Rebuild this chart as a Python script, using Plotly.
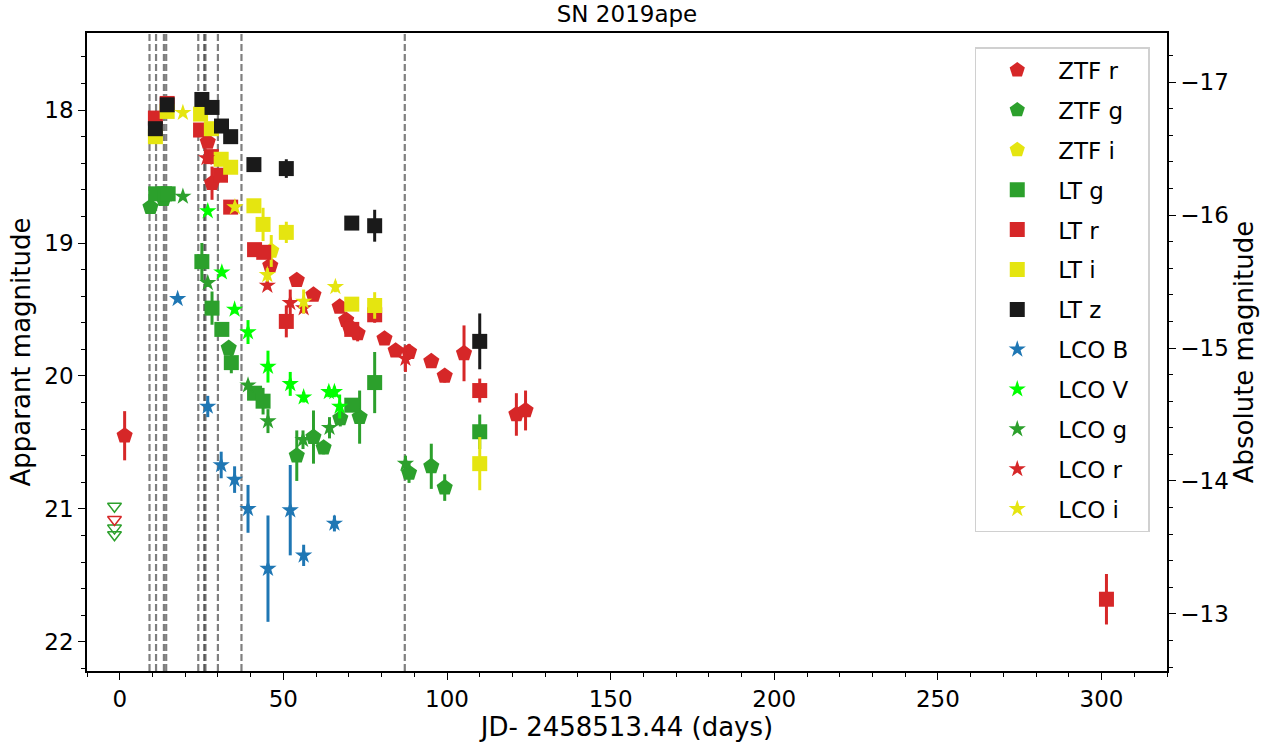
import plotly.graph_objects as go

# ---------------- data ----------------
DIST_MOD = 34.79

spec_epochs = [9.1, 11.1, 13.5, 14.2, 24.0, 25.8, 26.2, 30.0, 37.2, 87.1]

# upper limits (ZTF)
ul_g_t = [-1.6, -1.6, -1.6]
ul_g_m = [20.98, 21.145, 21.195]
ul_r_t = [-1.6]
ul_r_m = [21.08]

ztf_r_t = [1.5, 26.9, 28.2, 46.0, 54.1, 59.2, 67.2, 69.2, 70.2, 72.7, 80.9, 84.3, 88.4, 95.2, 99.3, 105.2, 121.2, 124.0]
ztf_r_m = [20.45, 18.24, 18.55, 19.17, 19.28, 19.39, 19.48, 19.58, 19.63, 19.68, 19.72, 19.81, 19.82, 19.89, 20.0, 19.83, 20.29, 20.26]
ztf_r_e = [0.185, 0.04, 0.125, 0.04, 0.03, 0.04, 0.04, 0.05, 0.05, 0.06, 0.03, 0.03, 0.06, 0.04, 0.05, 0.21, 0.16, 0.15]

ztf_g_t = [9.4, 13.4, 33.3, 54.1, 59.2, 62.3, 67.4, 73.3, 88.4, 95.2, 99.3]
ztf_g_m = [18.73, 18.67, 19.79, 20.60, 20.46, 20.54, 20.32, 20.31, 20.73, 20.68, 20.84]
ztf_g_e = [0.03, 0.03, 0.05, 0.19, 0.20, 0.05, 0.06, 0.20, 0.075, 0.17, 0.10]

ztf_i_t = [46.3]
ztf_i_m = [19.06]
ztf_i_e = [0.12]

lt_g_t = [11.0, 13.7, 14.8, 25.1, 28.2, 31.2, 34.1, 41.2, 43.8, 70.9, 77.9, 110.0]
lt_g_m = [18.63, 18.63, 18.63, 19.14, 19.49, 19.65, 19.90, 20.13, 20.19, 20.22, 20.05, 20.42]
lt_g_e = [0.02, 0.02, 0.02, 0.14, 0.125, 0.03, 0.08, 0.03, 0.10, 0.04, 0.23, 0.13]

lt_r_t = [10.9, 14.5, 24.7, 28.0, 30.8, 33.9, 41.2, 44.0, 50.9, 70.9, 77.9, 110.0, 301.5]
lt_r_m = [18.06, 17.95, 18.15, 18.35, 18.49, 18.73, 19.05, 19.07, 19.59, 19.65, 19.54, 20.11, 21.68]
lt_r_e = [0.02, 0.02, 0.02, 0.03, 0.03, 0.02, 0.03, 0.05, 0.12, 0.04, 0.06, 0.09, 0.19]

lt_i_t = [10.9, 14.5, 24.7, 28.0, 31.0, 33.9, 41.0, 43.8, 50.9, 70.9, 77.9, 110.0]
lt_i_m = [18.20, 18.01, 18.03, 18.14, 18.37, 18.43, 18.72, 18.86, 18.92, 19.46, 19.47, 20.66]
lt_i_e = [0.02, 0.02, 0.02, 0.02, 0.02, 0.03, 0.03, 0.125, 0.08, 0.03, 0.10, 0.20]

lt_z_t = [10.9, 14.5, 25.1, 28.2, 31.1, 33.9, 41.0, 50.9, 70.9, 77.9, 110.0]
lt_z_m = [18.14, 17.96, 17.92, 17.98, 18.12, 18.20, 18.41, 18.44, 18.85, 18.87, 19.74]
lt_z_e = [0.02, 0.02, 0.02, 0.02, 0.02, 0.02, 0.03, 0.07, 0.03, 0.12, 0.21]

lco_B_t = [17.7, 26.9, 31.0, 35.1, 39.2, 45.3, 52.1, 56.2, 65.6]
lco_B_m = [19.42, 20.23, 20.67, 20.78, 21.00, 21.45, 21.01, 21.35, 21.11]
lco_B_e = [0.02, 0.08, 0.10, 0.10, 0.18, 0.40, 0.34, 0.08, 0.06]

lco_V_t = [26.9, 31.2, 35.1, 39.2, 45.3, 52.1, 56.2, 63.9, 65.6, 67.2]
lco_V_m = [18.76, 19.22, 19.50, 19.67, 19.93, 20.06, 20.16, 20.12, 20.12, 20.23]
lco_V_e = [0.02, 0.03, 0.03, 0.09, 0.12, 0.09, 0.04, 0.04, 0.04, 0.09]

lco_g_t = [19.3, 26.9, 39.2, 45.3, 56.0, 64.1, 87.3]
lco_g_m = [18.65, 19.30, 20.07, 20.34, 20.48, 20.39, 20.66]
lco_g_e = [0.02, 0.03, 0.03, 0.09, 0.07, 0.08, 0.06]

lco_r_t = [26.5, 45.1, 52.1, 56.2, 87.3]
lco_r_m = [18.36, 19.32, 19.45, 19.49, 19.87]
lco_r_e = [0.03, 0.03, 0.10, 0.04, 0.10]

lco_i_t = [19.3, 35.2, 45.1, 56.2, 65.9]
lco_i_m = [18.02, 18.73, 19.24, 19.44, 19.33]
lco_i_e = [0.02, 0.03, 0.05, 0.09, 0.04]

RED = "#d62728"
GREEN = "#2ca02c"
YELLOW = "#e5e510"
BLACK = "#1a1a1a"
BLUE = "#1f77b4"
LIME = "#00ff00"

series = [
    ("ZTF r", ztf_r_t, ztf_r_m, ztf_r_e, RED, "pentagon", 17),
    ("ZTF g", ztf_g_t, ztf_g_m, ztf_g_e, GREEN, "pentagon", 17),
    ("ZTF i", ztf_i_t, ztf_i_m, ztf_i_e, YELLOW, "pentagon", 17),
    ("LT g", lt_g_t, lt_g_m, lt_g_e, GREEN, "square", 15),
    ("LT r", lt_r_t, lt_r_m, lt_r_e, RED, "square", 15),
    ("LT i", lt_i_t, lt_i_m, lt_i_e, YELLOW, "square", 15),
    ("LT z", lt_z_t, lt_z_m, lt_z_e, BLACK, "square", 15),
    ("LCO B", lco_B_t, lco_B_m, lco_B_e, BLUE, "star", 13),
    ("LCO V", lco_V_t, lco_V_m, lco_V_e, LIME, "star", 13),
    ("LCO g", lco_g_t, lco_g_m, lco_g_e, GREEN, "star", 13),
    ("LCO r", lco_r_t, lco_r_m, lco_r_e, RED, "star", 13),
    ("LCO i", lco_i_t, lco_i_m, lco_i_e, YELLOW, "star", 13),
]

fig = go.Figure()

# upper limits
for t, m, c in [(ul_g_t, ul_g_m, GREEN), (ul_r_t, ul_r_m, RED)]:
    fig.add_trace(go.Scatter(
        x=t, y=m, mode="markers", showlegend=False, hoverinfo="skip",
        marker=dict(symbol="triangle-down-open", size=12, color=c, line=dict(width=1.5, color=c)),
    ))

PAD = "\u00a0\u00a0"
for i, (name, t, m, e, c, sym, sz) in enumerate(series):
    fig.add_trace(go.Scatter(
        x=t, y=m, mode="markers", name=name + PAD, legendgroup=f"g{i}",
        marker=dict(symbol=sym, size=sz, color=c, line=dict(width=0)),
        error_y=dict(type="data", array=e, visible=True, color=c, thickness=3, width=0),
    ))

# twin axis (absolute magnitude) – invisible trace on y2
fig.add_trace(go.Scatter(
    x=lt_r_t, y=[v - DIST_MOD for v in lt_r_m], yaxis="y2", mode="markers",
    marker=dict(opacity=0), showlegend=False, hoverinfo="skip",
))

for ep in spec_epochs:
    fig.add_shape(type="line", x0=ep, x1=ep, y0=0, y1=1, xref="x", yref="paper",
                  line=dict(color="rgba(0,0,0,0.5)", width=2.2, dash="7px,3px"), layer="below")

y_lo, y_hi = 22.22, 17.42
FONT = "DejaVu Sans"
W, H = 1278, 742
L, R, T, B = 87, 111, 33, 71

fig.update_layout(
    width=W, height=H,
    margin=dict(l=L, r=R, t=T, b=B, autoexpand=False),
    paper_bgcolor="white", plot_bgcolor="white",
    font=dict(family=FONT, size=23, color="black"),
    title=dict(text="SN 2019ape", x=(L + (W - L - R) / 2) / W, xanchor="center",
               y=1 - 14 / H, yanchor="middle", font=dict(size=23), automargin=False),
    xaxis=dict(range=[-10, 320], showgrid=False, zeroline=False, showline=True, linecolor="black",
               linewidth=1.5, mirror=True, ticks="outside", ticklen=7, tickwidth=1.3, tickcolor="black",
               dtick=50, tick0=0, automargin=False, tickfont=dict(size=23),
               minor=dict(dtick=10, tick0=0, ticks="outside", ticklen=4, tickcolor="black", showgrid=False),
               title=dict(text="JD- 2458513.44 (days)", font=dict(size=26), standoff=2)),
    yaxis=dict(range=[y_lo, y_hi], showgrid=False, zeroline=False, showline=True, linecolor="black",
               linewidth=1.5, ticks="outside", ticklen=7, tickwidth=1.3, tickcolor="black",
               dtick=1, tick0=18, automargin=False, tickfont=dict(size=23),
               minor=dict(dtick=0.2, tick0=18, ticks="outside", ticklen=4, tickcolor="black", showgrid=False),
               title=dict(text="Apparant magnitude", font=dict(size=26), standoff=6)),
    yaxis2=dict(range=[y_lo - DIST_MOD, y_hi - DIST_MOD], overlaying="y", side="right", anchor="x",
                showgrid=False, zeroline=False, showline=True, linecolor="black", linewidth=1.5,
                ticks="outside", ticklen=7, tickwidth=1.3, tickcolor="black", dtick=1, tick0=-17,
                automargin=False, tickfont=dict(size=23),
                minor=dict(dtick=0.2, tick0=-17, ticks="outside", ticklen=4, tickcolor="black", showgrid=False),
                title=dict(text="Absolute magnitude", font=dict(size=26), standoff=6)),
    legend=dict(x=0.822, y=0.978, xanchor="left", yanchor="top", bgcolor="white",
                bordercolor="#d0d0d0", borderwidth=1.5, font=dict(size=23), tracegroupgap=7,
                itemsizing="trace", itemwidth=72),
)

fig.write_html("out.html", config={"displayModeBar": False},
               post_script="document.body.style.margin='0px';")
